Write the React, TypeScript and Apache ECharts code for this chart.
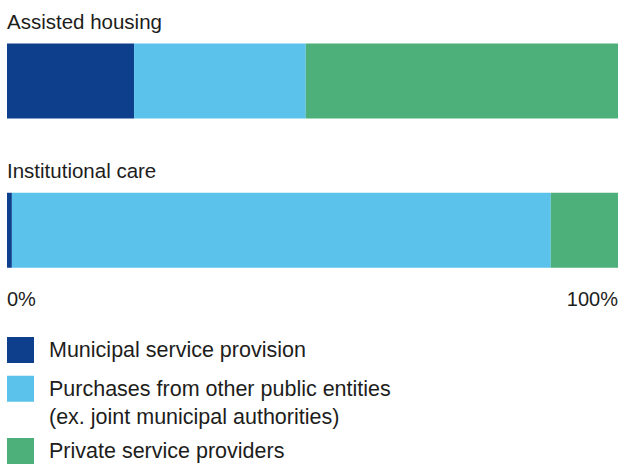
import React, { useEffect, useRef } from "react";
import * as echarts from "echarts";

const categories = ["Assisted housing", "Institutional care"];
const seriesNames = [
  "Municipal service provision",
  "Purchases from other public entities\n(ex. joint municipal authorities)",
  "Private service providers",
];
const municipal = [20.8, 0.8];
const purchases = [28.1, 88.2];
const privateProv = [51.1, 11.0];
const colors = ["#0E3F8C", "#5BC2EC", "#4DB07A"];
const axisTicks = [0, 100];

const FONT = "'Liberation Sans', Arial, Helvetica, sans-serif";
const TEXT = "#1d1d1b";

export default function App() {
  const ref = useRef<HTMLDivElement>(null);
  useEffect(() => {
    if (!ref.current) return;
    const chart = echarts.init(ref.current, undefined, { renderer: "svg" });
    const values = [municipal, purchases, privateProv];
    const legendTops = [337, 346, 438];
    const legends = seriesNames.map((name, i) => ({
      left: 7,
      top: legendTops[i],
      padding: 0,
      orient: "vertical",
      selectedMode: false,
      icon: "rect",
      itemWidth: 27,
      itemHeight: 26,
      data: [name],
      formatter: (n: string) => (n.indexOf("\n") >= 0 ? "\n" + n : n),
      textStyle: {
        fontSize: 21.5,
        lineHeight: i === 1 ? 28.5 : 26,
        color: TEXT,
        fontFamily: FONT,
        padding: [0, 0, 0, 10],
      },
    }));
    chart.setOption({
      animation: false,
      textStyle: { fontFamily: FONT },
      legend: legends,
      grid: {
        left: 7,
        right: 3,
        top: 6.4,
        height: 298.4,
        containLabel: false,
        outerBoundsMode: "none",
      },
      xAxis: {
        type: "value",
        min: axisTicks[0],
        max: axisTicks[1],
        interval: axisTicks[1] - axisTicks[0],
        splitLine: { show: false },
        axisLine: { show: false },
        axisTick: { show: false },
        axisLabel: {
          margin: -16,
          fontSize: 20,
          color: TEXT,
          fontFamily: FONT,
          alignMinLabel: "left",
          alignMaxLabel: "right",
          formatter: (v: number) => v + "%",
        },
      },
      yAxis: {
        type: "category",
        inverse: true,
        data: categories,
        z: 10,
        axisLine: { show: false },
        axisTick: { show: false },
        axisLabel: {
          inside: true,
          margin: 0,
          interval: 0,
          fontSize: 20.5,
          color: TEXT,
          fontFamily: FONT,
          align: "left",
          verticalAlign: "bottom",
          lineHeight: 120,
        },
      },
      series: seriesNames.map((name, i) => ({
        name,
        type: "bar",
        stack: "total",
        barWidth: 75,
        itemStyle: { color: colors[i] },
        data: values[i],
      })),
    });
    return () => chart.dispose();
  }, []);
  return (
    <div
      ref={ref}
      style={{ position: "absolute", left: 0, top: 0, width: 621, height: 466, background: "#fff" }}
    />
  );
}
